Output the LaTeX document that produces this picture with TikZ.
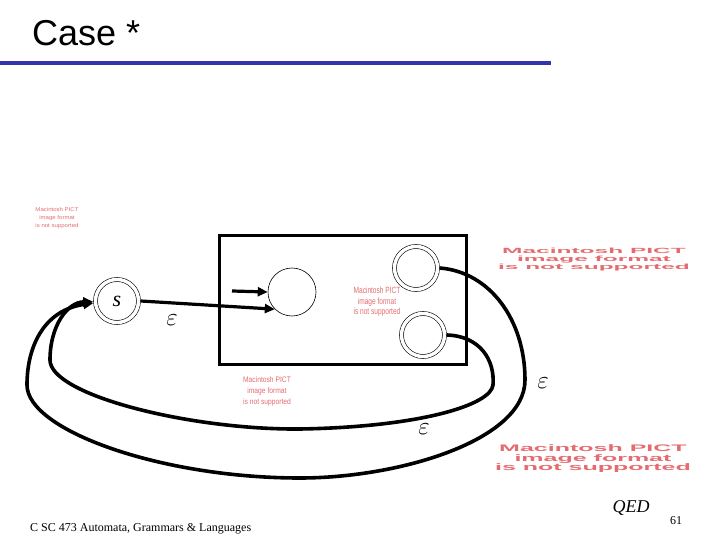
\documentclass[tikz,border=0pt]{standalone}
\usepackage{graphicx}
\usepackage{fontspec}
\setmainfont{Liberation Serif}
\newfontfamily\arialfont{Liberation Sans}
\usetikzlibrary{arrows.meta}
\definecolor{titleblue}{RGB}{51,51,170}
\definecolor{pictred}{RGB}{228,108,112}
\newcommand{\pictmsg}{\begin{tabular}{@{}c@{}}Macintosh PICT\\image format\\is not supported\end{tabular}}
\begin{document}
\begin{tikzpicture}[x=1pt,y=-1pt,
  pict/.style={text=pictred, inner sep=0pt},
  dstate/.style={circle, draw, double, double distance=3.4pt, line width=0.6pt, minimum size=43pt, inner sep=0pt, outer sep=2.3pt},
  pstate/.style={circle, draw, line width=0.6pt, minimum size=48pt, inner sep=0pt, outer sep=0.3pt},
  sarrow/.style={line width=3.2pt, -{Triangle[length=10pt,width=9pt]}},
  curvearr/.style={line width=3.6pt, -{Triangle[length=10pt,width=9pt]}},
  eps/.style={font=\fontsize{27}{27}\selectfont, inner sep=0pt}]
\useasboundingbox (0,0) rectangle (720,540);

% title
\node[anchor=base west, font=\arialfont\fontsize{36}{36}\selectfont, inner sep=0pt] (title) at (32,46) {Case *};
\draw[titleblue, line width=4.5pt] (0,63) -- (551,63);

% box
\node[draw, line width=3pt, minimum width=247pt, minimum height=129pt, inner sep=0pt] (box) at (342.5,299.5) {};

% states
\node[dstate] (s) at (117,301) {\fontsize{22}{22}\selectfont\itshape s};
\node[pstate] (q0) at (292,292) {};
\node[dstate] (acc1) at (416,268) {};
\node[dstate] (acc2) at (423,335) {};

% placeholder texts
\node[pict] (p1) at (57,218) {\scalebox{1.1}[1]{\arialfont\fontsize{5.5}{8}\selectfont\pictmsg}};
\node[pict] (p2) at (377,302) {\scalebox{0.73}[1]{\arialfont\fontsize{9}{10.5}\selectfont\pictmsg}};
\node[pict] (p3) at (267,391) {\scalebox{0.84}[1]{\arialfont\fontsize{8}{11}\selectfont\pictmsg}};
\node[pict] (p4) at (594,260) {\scalebox{2.45}[0.75]{\arialfont\bfseries\fontsize{10}{11}\selectfont\pictmsg}};
\node[pict] (p5) at (593,459) {\scalebox{2.5}[0.95]{\arialfont\bfseries\fontsize{10}{8.8}\selectfont\pictmsg}};

% arrows
\coordinate (in0) at (232,291);
\draw[sarrow] (in0) -- (q0.west);
\draw[sarrow] (s.east) -- (q0.225);

\draw[curvearr] (acc1.east) .. controls (490,272) and (525,320) .. (525,380)
  .. controls (525,440) and (400,478) .. (300,478)
  .. controls (160,478) and (27,430) .. (27,385)
  .. controls (27,345) and (45,310) .. (s.185);
\draw[curvearr] (acc2.east) .. controls (480,336) and (495,360) .. (493,385)
  .. controls (491,405) and (420,427) .. (300,429)
  .. controls (190,430) and (50,395) .. (50,360)
  .. controls (50,325) and (68,302) .. (s.182);

% epsilon labels
\node[eps] (e1) at (172,320) {$\varepsilon$};
\node[eps] (e2) at (543,383) {$\varepsilon$};
\node[eps] (e3) at (424,429) {$\varepsilon$};

% footer
\node[anchor=base west, font=\fontsize{12}{12}\selectfont, inner sep=0pt] (foot) at (30,531) {C SC 473 Automata, Grammars \& Languages};
\node[font=\fontsize{18}{18}\selectfont\itshape, inner sep=0pt] (qed) at (631,508) {QED};
\node[font=\fontsize{12}{12}\selectfont, inner sep=0pt] (pg) at (676,521) {61};
\end{tikzpicture}
\end{document}
